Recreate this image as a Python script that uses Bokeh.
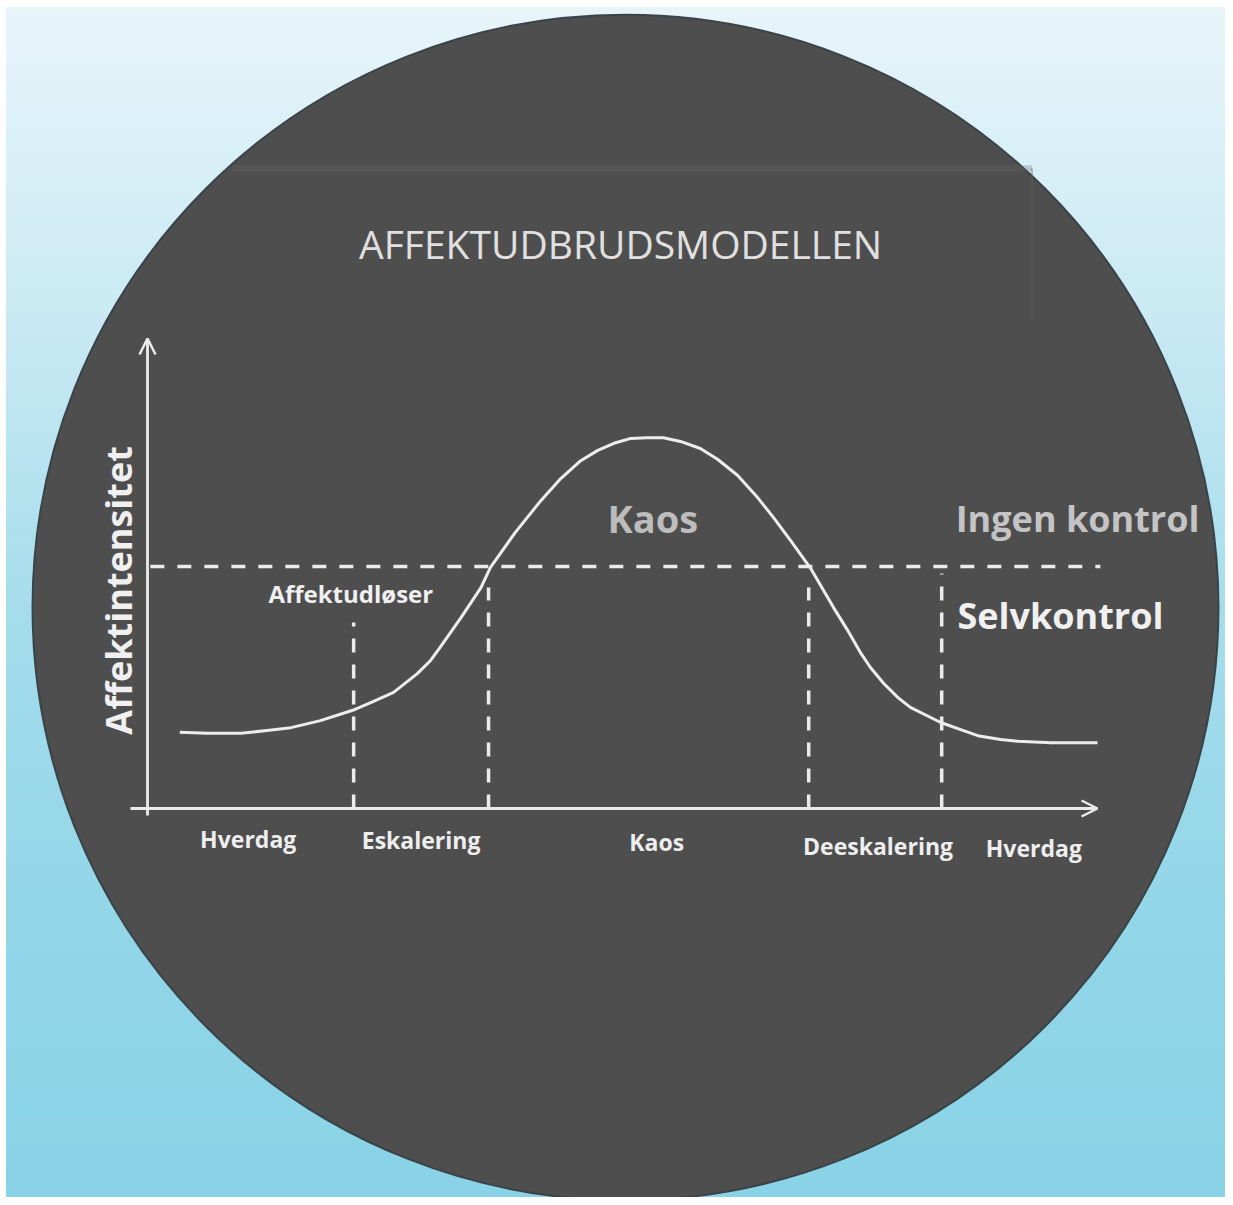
import numpy as np
from bokeh.plotting import figure
from bokeh.models import Arrow, OpenHead, Range1d
from bokeh.embed import file_html
from bokeh.resources import INLINE
from bokeh.core.properties import value

# ---------------- data ----------------
title_text = "AFFEKTUDBRUDSMODELLEN"
y_label = "Affektintensitet"

# affect-intensity curve (x: time 0-100, y: intensity 0-100)
curve_x = [3.4, 6.3, 9.8, 12.6, 15.1, 18.2, 21.6, 23.8, 25.9, 28.4, 29.8, 30.8,
           33.0, 35.1, 36.1, 38.7, 41.4, 43.5, 45.6, 47.4, 49.1, 50.8, 52.6, 54.3,
           56.1, 58.2, 60.0, 62.1, 64.2, 65.9, 67.7, 69.8, 72.2, 73.7, 75.1, 76.1,
           77.5, 79.0, 80.3, 83.5, 85.6, 87.4, 89.8, 91.6, 95.1, 100.0]
curve_y = [16.2, 16.0, 16.0, 16.6, 17.2, 18.7, 20.9, 22.8, 24.7, 28.7, 31.5, 34.3,
           40.6, 47.0, 51.3, 58.7, 65.5, 70.2, 74.0, 76.2, 77.7, 78.7, 78.9, 78.9,
           78.1, 76.6, 74.3, 70.9, 66.2, 61.9, 57.0, 51.1, 42.8, 37.9, 33.0, 30.0,
           26.6, 23.6, 21.5, 18.3, 16.8, 15.5, 14.7, 14.3, 14.0, 14.0]

threshold = 51.5           # self-control limit
threshold_span = [0.3, 100.3]

boundary_x = [21.7, 35.9, 69.6, 83.6]
boundary_top = [39.6, 47.0, 47.0, 50.0]

phase_labels = ["Hverdag", "Eskalering", "Kaos", "Deeskalering", "Hverdag"]
phase_x = [10.6, 28.8, 53.6, 76.9, 93.3]
phase_y = [-6.4, -6.8, -7.2, -7.9, -8.5]

zone_labels = ["Kaos", "Ingen kontrol", "Selvkontrol", "Affektudløser"]
zone_x = [53.2, 97.9, 96.1, 21.4]
zone_y = [61.9, 61.7, 41.1, 45.7]
zone_size = ["38px", "36px", "36px", "24px"]
zone_color = ["#bdbdbd", "#c4c4c4", "#f0f0f0", "#f0f0f0"]

# ---------------- figure ----------------
W, H = 1225, 1197
SX, SY = 9.5, 4.7          # px per data unit
OX, OY = 147, 808          # pixel position of the origin
x0, x1 = -OX / SX, (W - OX) / SX
y0, y1 = (OY - H) / SY, OY / SY

p = figure(width=W, height=H, output_backend="svg", toolbar_location=None,
           x_range=Range1d(x0, x1), y_range=Range1d(y0, y1), min_border=0)
p.axis.visible = False
p.grid.visible = False
p.outline_line_color = None
p.background_fill_color = "white"
p.border_fill_color = "white"

# background gradient (light at top -> cyan at bottom)
stops_pos = [0.0, 0.25, 0.5, 0.75, 1.0]
stops_rgb = np.array([[231, 245, 250], [203, 234, 244], [166, 221, 236],
                      [147, 214, 232], [137, 211, 230]], dtype=float)
n = 120
g_top = (OY - 7) / SY
g_left = (6 - OX) / SX
edges = np.linspace(g_top, y0, n + 1)
t = (np.arange(n) + 0.5) / n
cols = []
for tt in t:
    rgb = [np.interp(tt, stops_pos, stops_rgb[:, k]) for k in range(3)]
    cols.append("#%02x%02x%02x" % tuple(int(round(c)) for c in rgb))
p.quad(left=g_left, right=x1, top=edges[:-1], bottom=edges[1:], fill_color=cols,
       line_color=cols, line_width=1)

# dark disc
p.scatter(x=[(625 - OX) / SX], y=[(OY - 607) / SY], size=1186, marker="circle",
          fill_color="#4e4e4e", line_color="#3a4448", line_width=2)

# faint scanned-paper edges
p.line(x=[8.9, 93.1], y=[136.2, 136.2], line_color="#6a6a6a", line_width=6, line_alpha=0.3)
p.line(x=[93.1, 93.1], y=[136.2, 104.0], line_color="#5e5e5e", line_width=2, line_alpha=0.4)

line_col = "#ebebeb"

# axes
p.add_layout(Arrow(end=OpenHead(size=16, line_color=line_col, line_width=2.5),
                   x_start=-1.8, y_start=0, x_end=100, y_end=0,
                   line_color=line_col, line_width=2.8))
p.add_layout(Arrow(end=OpenHead(size=16, line_color=line_col, line_width=2.5),
                   x_start=0, y_start=-1.5, x_end=0, y_end=100,
                   line_color=line_col, line_width=2.8))

# threshold line
p.line(x=threshold_span, y=[threshold, threshold], line_color=line_col,
       line_width=3.5, line_dash="14 13")

# phase boundaries
p.segment(x0=boundary_x, y0=[0] * len(boundary_x), x1=boundary_x, y1=boundary_top,
          line_color=line_col, line_width=3.5, line_dash="14 12")

# curve
p.line(x=curve_x, y=curve_y, line_color="#ededed", line_width=3, line_join="round")

# texts
p.text(x=[49.8], y=[120.2], text=[title_text], text_font=value("Open Sans"),
       text_font_size="39px", text_color="#e0e0e0", text_align="center",
       text_baseline="middle")
p.text(x=[-3.05], y=[46.4], text=[y_label], angle=np.pi / 2,
       text_font=value("Open Sans"), text_font_style="bold",
       text_font_size="36px", text_color="#f0f0f0", text_align="center",
       text_baseline="middle")
p.text(x=phase_x, y=phase_y, text=phase_labels, text_font=value("Open Sans"),
       text_font_style="bold", text_font_size="23px", text_color="#eeeeee",
       text_align="center", text_baseline="middle")
p.text(x=zone_x, y=zone_y, text=zone_labels, text_font=value("Open Sans"),
       text_font_style="bold", text_font_size=zone_size, text_color=zone_color,
       text_align="center", text_baseline="middle")

open("out.html", "w").write(file_html(p, INLINE))
